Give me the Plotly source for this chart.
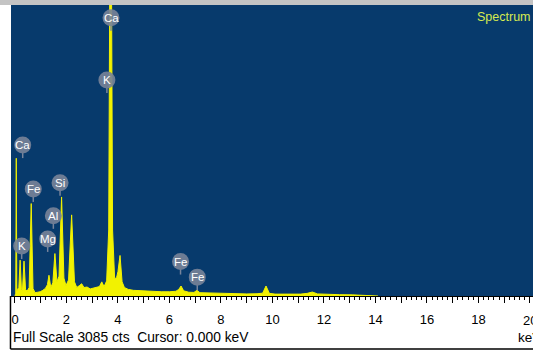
import plotly.graph_objects as go

# Spectrum (energy in keV, counts)
energy_kev = [0.00, 0.03, 0.05, 0.07, 0.10, 0.15, 0.20, 0.25, 0.29, 0.35, 0.41,
              0.47, 0.55, 0.63, 0.70, 0.78, 0.88, 0.98, 1.08, 1.18, 1.26, 1.32,
              1.39, 1.47, 1.55, 1.63, 1.71, 1.81, 1.90, 1.98, 2.08, 2.20, 2.31,
              2.40, 2.50, 2.59, 2.68, 2.80, 2.92, 3.05, 3.18, 3.28, 3.37, 3.46,
              3.56, 3.64, 3.68, 3.75, 3.79, 3.87, 3.95, 4.00, 4.08, 4.16, 4.25,
              4.40, 4.60, 4.85, 5.10, 5.40, 5.70, 6.00, 6.25, 6.36, 6.45, 6.55,
              6.75, 6.95, 7.07, 7.18, 7.45, 7.80, 8.20, 8.60, 9.00, 9.40, 9.62,
              9.75, 9.88, 10.10, 10.60, 11.10, 11.35, 11.55, 11.75, 12.10, 12.60,
              13.10, 13.60, 14.00, 14.10]
counts = [0, 30, 1460, 50, 70, 90, 380, 70, 60, 370, 70,
          50, 90, 980, 80, 35, 40, 45, 60, 80, 120, 220,
          90, 140, 450, 150, 210, 1050, 190, 110, 170, 860, 150,
          90, 110, 130, 90, 95, 75, 85, 95, 100, 150, 100,
          160, 700, 3300, 3300, 700, 180, 200, 260, 430, 150, 90,
          70, 60, 55, 50, 48, 45, 45, 50, 70, 106, 55,
          40, 38, 60, 35, 32, 30, 26, 24, 22, 24, 30,
          106, 28, 20, 18, 20, 28, 42, 22, 16, 14,
          12, 9, 5, 0]

# Element labels (text, energy keV, counts)
label_text = ["Ca", "K", "Ca", "Fe", "Si", "Al", "Mg", "K", "Fe", "Fe"]
label_kev = [3.73, 3.57, 0.30, 0.71, 1.75, 1.49, 1.27, 0.26, 6.43, 7.08]
label_cts = [2950, 2290, 1600, 1135, 1200, 850, 605, 530, 365, 200]

# Axis ticks
tick_vals = list(range(0, 21))
tick_text = [str(v) if (v % 2 == 0 and v < 20) else "" for v in tick_vals]
edge_tick = 20

BLUE = "#073a6c"
YELLOW = "#f2f200"
FONT = "Arial, Liberation Sans"

fig = go.Figure()
fig.add_trace(go.Scatter(
    x=energy_kev, y=counts, mode="lines", fill="tozeroy",
    line=dict(color=YELLOW, width=1), fillcolor=YELLOW,
    hoverinfo="skip", showlegend=False,
))

shapes = []
annotations = []
for t, xk, yc in zip(label_text, label_kev, label_cts):
    shapes.append(dict(type="line", xref="x", yref="y", xsizemode="pixel", ysizemode="pixel",
                       xanchor=xk, yanchor=yc, x0=0, x1=0, y0=-8, y1=-13,
                       line=dict(color="rgb(120,132,155)", width=1.5)))
    shapes.append(dict(type="circle", xref="x", yref="y", xsizemode="pixel", ysizemode="pixel",
                       xanchor=xk, yanchor=yc, x0=-8.5, x1=8.5, y0=-8.5, y1=8.5,
                       fillcolor="rgba(118,130,152,0.92)", line=dict(width=0)))
    annotations.append(dict(x=xk, y=yc, xref="x", yref="y", text=t, showarrow=False,
                            font=dict(family=FONT, size=11.5, color="white")))

# top grey band
shapes.append(dict(type="rect", xref="paper", yref="paper", x0=-0.05, x1=1.05, y0=1.0, y1=1.03,
                   fillcolor="#c4c4c4", line=dict(width=0), layer="above"))
# outer frame below the plot
shapes.append(dict(type="line", xref="paper", yref="paper", x0=-0.001, x1=-0.001, y0=-0.182, y1=0,
                   line=dict(color="black", width=1.5)))
shapes.append(dict(type="line", xref="paper", yref="paper", x0=-0.001, x1=1.0, y0=-0.182, y1=-0.182,
                   line=dict(color="black", width=1.5)))

annotations.append(dict(x=0.888, y=0.958, xref="paper", yref="paper", xanchor="left", yanchor="middle",
                        text="Spectrum 4", showarrow=False,
                        font=dict(family=FONT, size=12.5, color="#d6ea50")))
annotations.append(dict(x=0.0, y=-0.144, xref="paper", yref="paper", xanchor="left", yanchor="middle",
                        text="Full Scale 3085 cts  Cursor: 0.000 keV", showarrow=False,
                        font=dict(family=FONT, size=13.8, color="black")))
annotations.append(dict(x=0.968, y=-0.144, xref="paper", yref="paper", xanchor="left", yanchor="middle",
                        text="keV", showarrow=False,
                        font=dict(family=FONT, size=13.5, color="black")))
annotations.append(dict(x=edge_tick, y=-0.05, xref="x", yref="paper", xanchor="center", yanchor="top",
                        text=str(edge_tick), showarrow=False,
                        font=dict(family=FONT, size=13, color="black")))

fig.update_layout(
    width=533, height=350,
    margin=dict(l=11, r=0, t=5, b=54),
    paper_bgcolor="white", plot_bgcolor=BLUE,
    shapes=shapes, annotations=annotations,
    xaxis=dict(range=[-0.155, 20.12], tickmode="array", tickvals=tick_vals, ticktext=tick_text,
               ticks="outside", ticklen=6, tickcolor="black", tickwidth=1,
               ticklabelstandoff=5,
               minor=dict(tickmode="linear", tick0=0, dtick=0.2, ticks="outside", ticklen=3,
                          tickcolor="black", showgrid=False),
               showline=True, linecolor="black", linewidth=1, showgrid=False, zeroline=False,
               tickfont=dict(family=FONT, size=13, color="black"),
               fixedrange=True),
    yaxis=dict(range=[0, 3085], visible=False, fixedrange=True),
)

fig.write_html("out.html", config={"displayModeBar": False},
               post_script="document.body.style.margin='0';document.body.style.overflow='hidden';")
